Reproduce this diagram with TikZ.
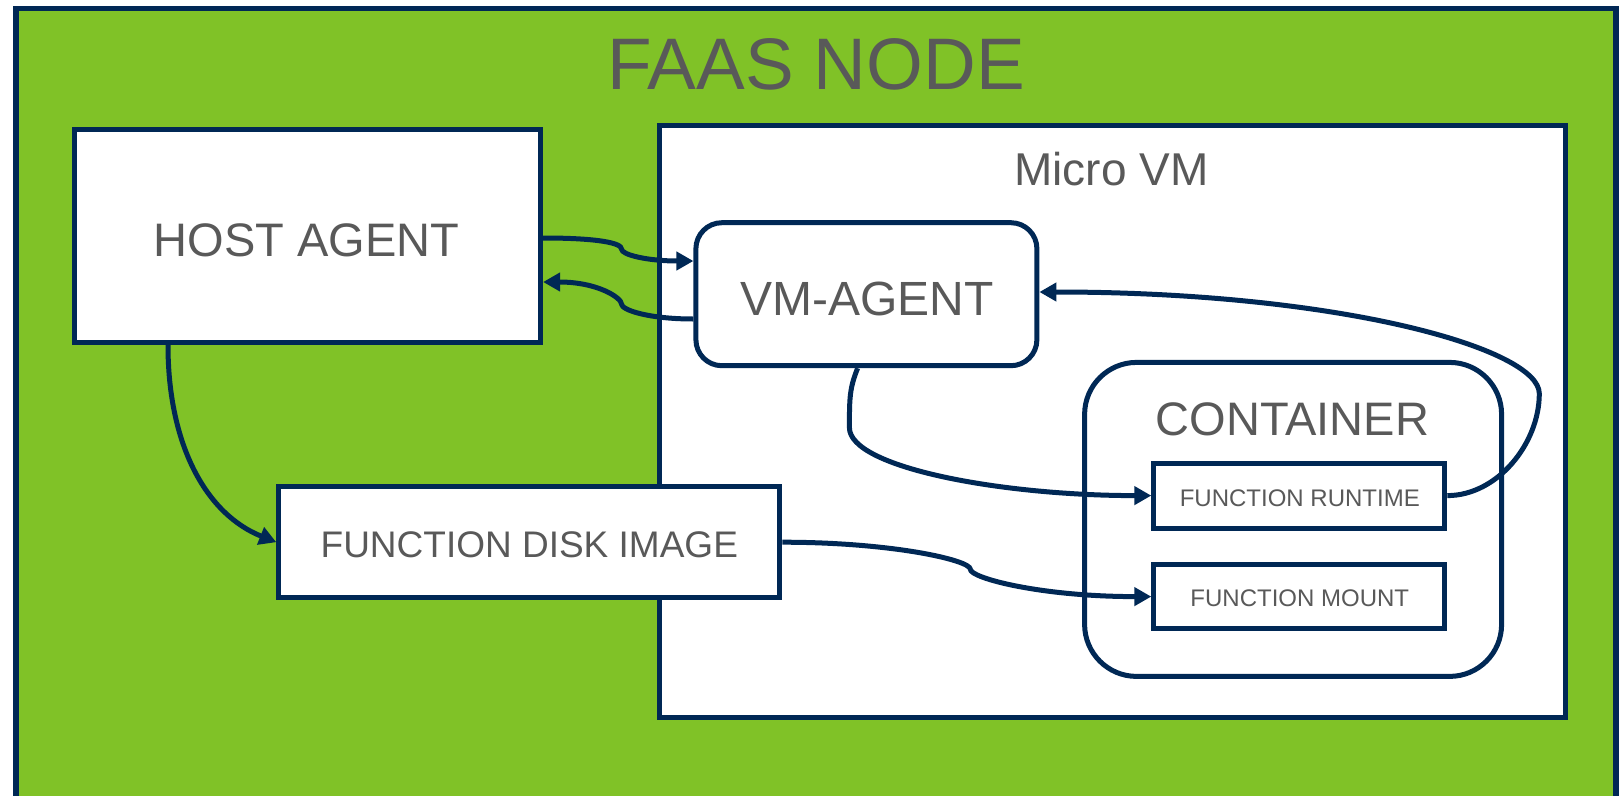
\documentclass[tikz,border=0pt]{standalone}
\usepackage{fontspec}
\setmainfont{Liberation Sans}
\usetikzlibrary{arrows.meta,calc}
\definecolor{navy}{RGB}{0,40,85}
\definecolor{faasgreen}{RGB}{128,194,39}
\definecolor{txtgray}{RGB}{89,89,89}
\begin{document}
\begin{tikzpicture}[x=1pt,y=-1pt,
  box/.style={draw=navy, line width=5pt, fill=white, rectangle, inner sep=0pt},
  lbl/.style={text=txtgray, inner sep=0pt},
  arr/.style={draw=navy, line width=5pt, -{Triangle[length=17pt,width=18pt]}}
]
\useasboundingbox (0,0) rectangle (1624,795);
\begin{scope}
\clip (0,0) rectangle (1624,795);
\path[fill=faasgreen, draw=navy, line width=5.5pt] (16,8.5) rectangle (1616,830);
\end{scope}
% boxes
\node[box, minimum width=466pt, minimum height=213pt] (host) at (307.6,236.2) {};
\node[box, minimum width=906pt, minimum height=592pt] (vm) at (1112.9,421.9) {};
\node[box, rounded corners=26pt, minimum width=341pt, minimum height=143pt] (agent) at (866.4,294.2) {};
\node[box, rounded corners=52pt, minimum width=417pt, minimum height=314pt] (cont) at (1293.1,519.4) {};
\node[box, minimum width=291pt, minimum height=65pt] (rt) at (1299.3,495.6) {};
\node[box, minimum width=291pt, minimum height=64pt] (mnt) at (1299.3,596.6) {};
\node[box, minimum width=501pt, minimum height=111pt] (fdi) at (529.3,542.2) {};
% labels
\node[lbl, font=\fontsize{73}{80}\selectfont] (title) at (816,64.7) {FAAS NODE};
\node[lbl, font=\fontsize{47}{54}\selectfont] (hostlbl) at ($(host)+(-1,3.8)$) {HOST AGENT};
\node[lbl, font=\fontsize{46}{52}\selectfont] (vmlbl) at (1111.3,168.8) {Micro VM};
\node[lbl, font=\fontsize{48}{54}\selectfont] (agentlbl) at ($(agent)+(0.5,5)$) {VM-AGENT};
\node[lbl, font=\fontsize{47}{54}\selectfont] (contlbl) at (1292.5,419.5) {CONTAINER};
\node[lbl, font=\fontsize{24}{28}\selectfont] (rtlbl) at ($(rt)+(0.5,2.6)$) {FUNCTION RUNTIME};
\node[lbl, font=\fontsize{24}{28}\selectfont] (mntlbl) at ($(mnt)+(0.5,2)$) {FUNCTION MOUNT};
\node[lbl, font=\fontsize{37}{42}\selectfont] (fdilbl) at ($(fdi)+(0,2.6)$) {FUNCTION DISK IMAGE};
% connectors
\draw[arr] ($(host.east)+(0,1.8)$) .. controls +(55,0) and +(0,-6) .. ($(host.east)+(78.4,12.8)$) .. controls +(0,6) and +(-45,0) .. ($(agent.west)+(0,-33.2)$);
\draw[arr] ($(agent.west)+(0,24.8)$) .. controls +(-45,0) and +(0,6) .. ($(host.east)+(78.4,67.8)$) .. controls +(0,-6) and +(55,0) .. ($(host.east)+(0,45.8)$);
\draw[arr] ($(agent.south)+(-8.8,0)$) .. controls +(-8,20) and +(0,-30) .. ($(agent.south)+(-17,59.4)$) .. controls +(0,40) and +(-150,0) .. (rt.west);
\draw[arr] (rt.east) .. controls +(50,0) and +(0,50) .. ($(rt.east)+(92,-102)$) .. controls +(0,-45) and +(300,0) .. ($(agent.east)+(0,-2.2)$);
\draw[arr] ($(host.south)+(-139.6,0)$) .. controls +(0,100) and +(-70,-28) .. (fdi.west);
\draw[arr] (fdi.east) .. controls +(110,0) and +(0,-9) .. ($(fdi.east)+(188,27)$) .. controls +(0,9) and +(-110,0) .. (mnt.west);
\end{tikzpicture}
\end{document}
